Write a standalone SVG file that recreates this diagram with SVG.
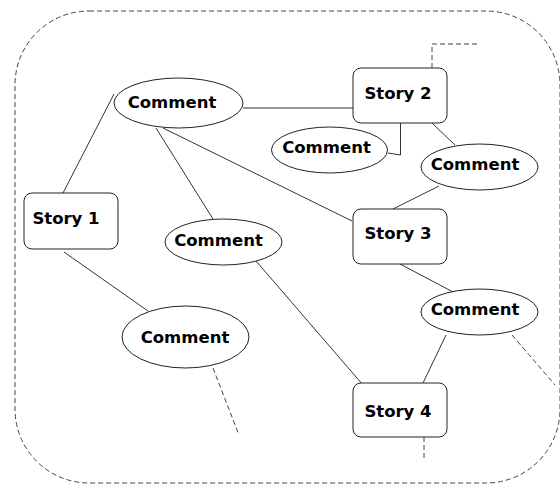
<svg xmlns="http://www.w3.org/2000/svg" width="560" height="485" viewBox="0 0 560 485">
<style>
.box{fill:#fff;stroke:#222;stroke-width:1}
.ell{fill:#fff;stroke:#222;stroke-width:1}
.t{font-family:"DejaVu Sans",Verdana,sans-serif;font-weight:bold;font-size:16.5px;fill:#000;text-anchor:middle}
.c{fill:none;stroke:#333;stroke-width:1}
.d{fill:none;stroke:#444;stroke-width:1;stroke-dasharray:5,3}
</style>
<rect x="15" y="11" width="545" height="472" rx="74" ry="74" class="d"/>
<g id="connectors">
<line class="c" x1="63" y1="193" x2="114" y2="94"/>
<line class="c" x1="243" y1="108" x2="353" y2="108"/>
<line class="c" x1="156" y1="128" x2="213" y2="219"/>
<line class="c" x1="163" y1="128" x2="352" y2="221"/>
<polyline class="c" points="400.5,123 400.5,155 388,153"/>
<line class="c" x1="432" y1="123" x2="455" y2="145"/>
<line class="c" x1="439" y1="186" x2="393" y2="209"/>
<line class="c" x1="400" y1="264" x2="455" y2="293"/>
<line class="c" x1="446" y1="335" x2="423" y2="383"/>
<line class="c" x1="256" y1="261" x2="363" y2="385"/>
<line class="c" x1="64" y1="252" x2="148" y2="311"/>
<polyline class="d" points="432,68 432,44 479,44"/>
<line class="d" x1="213" y1="368" x2="239" y2="435"/>
<line class="d" x1="512" y1="335" x2="555" y2="385"/>
<line class="d" x1="424" y1="437" x2="424" y2="461"/>
</g>
<g id="story1"><rect class="box" x="24" y="193" width="94" height="56" rx="8"/><text class="t" x="66" y="224">Story 1</text></g>
<g id="story2"><rect class="box" x="353" y="68" width="94" height="55" rx="8"/><text class="t" x="398" y="99">Story 2</text></g>
<g id="story3"><rect class="box" x="353" y="209" width="94" height="55" rx="8"/><text class="t" x="398" y="239">Story 3</text></g>
<g id="story4"><rect class="box" x="353" y="383" width="94" height="54" rx="8"/><text class="t" x="398" y="417">Story 4</text></g>
<g id="comment1"><ellipse class="ell" cx="178.5" cy="103" rx="64.5" ry="25"/><text class="t" x="172" y="108">Comment</text></g>
<g id="comment2"><ellipse class="ell" cx="223.5" cy="242" rx="58.5" ry="23"/><text class="t" x="218.5" y="246">Comment</text></g>
<g id="comment3"><ellipse class="ell" cx="185.5" cy="337" rx="63.5" ry="31"/><text class="t" x="185" y="343">Comment</text></g>
<g id="comment4"><ellipse class="ell" cx="329.5" cy="150" rx="58" ry="23"/><text class="t" x="326.5" y="153">Comment</text></g>
<g id="comment5"><ellipse class="ell" cx="479.5" cy="167" rx="58.5" ry="23"/><text class="t" x="475" y="170">Comment</text></g>
<g id="comment6"><ellipse class="ell" cx="479.5" cy="312" rx="58.5" ry="23"/><text class="t" x="475" y="315">Comment</text></g>
</svg>
